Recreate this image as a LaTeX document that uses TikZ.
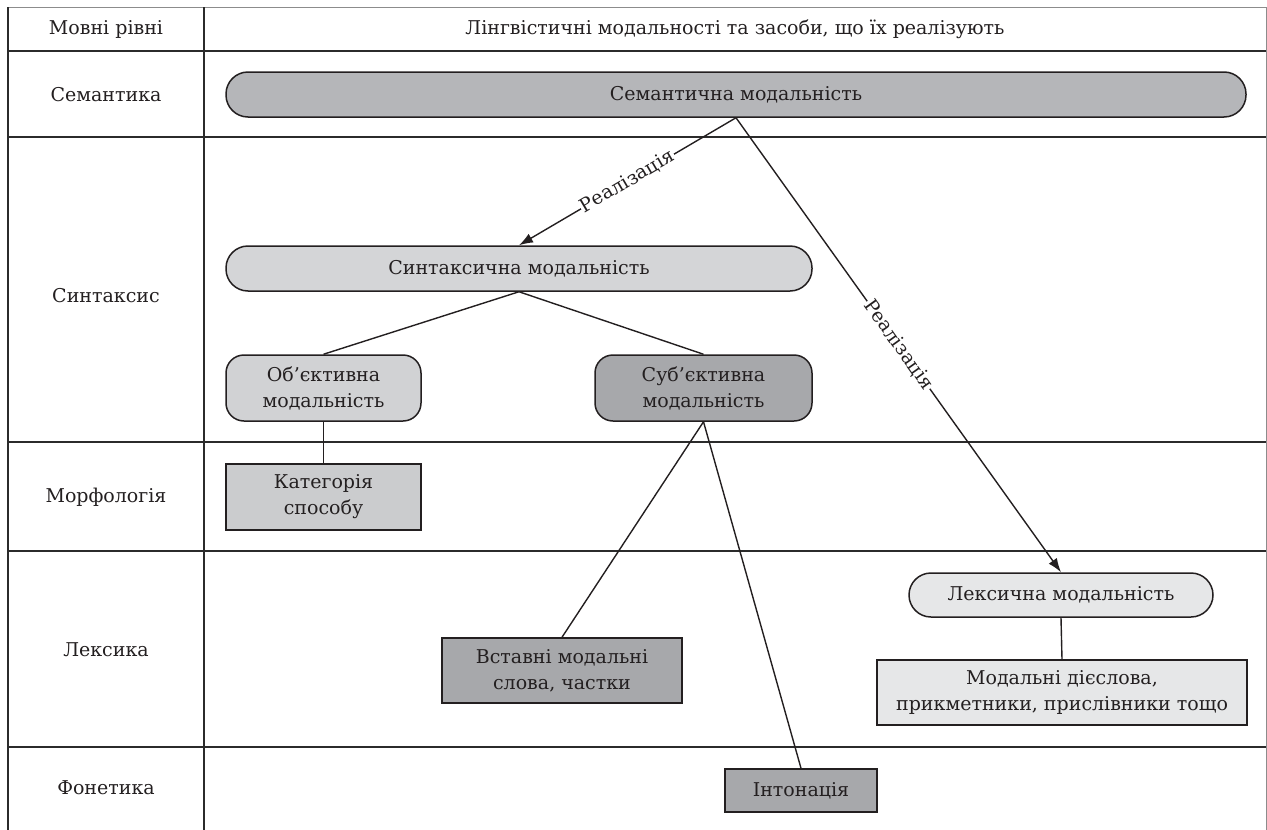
\documentclass[tikz,border=0pt]{standalone}
\usepackage{fontspec}
\setmainfont{DejaVu Serif}
\usetikzlibrary{arrows.meta}

\definecolor{semfill}{HTML}{B5B6B9}
\definecolor{synfill}{HTML}{D4D5D7}
\definecolor{objfill}{HTML}{D1D2D4}
\definecolor{subjfill}{HTML}{A7A8AB}
\definecolor{catfill}{HTML}{CBCCCE}
\definecolor{lexfill}{HTML}{E6E7E8}
\definecolor{gridline}{HTML}{2B2B2B}
\definecolor{ink}{HTML}{231F20}

\tikzset{
    every node/.style={font=\fontsize{19}{26}\selectfont, text=ink},
    pill/.style={draw=ink, line width=1.5pt, rounded corners=22pt,
        minimum height=45pt, inner sep=0pt},
    roundbox/.style={draw=ink, line width=1.5pt, rounded corners=18pt,
        minimum height=66pt, align=center, inner sep=0pt},
    plainbox/.style={draw=ink, line width=1.5pt, align=center, inner sep=0pt},
    link/.style={line width=1.4pt, draw=ink},
    realize/.style={link, -{Latex[length=14pt,width=10pt]}},
    realizelabel/.style={sloped, fill=white, inner sep=1pt},
}

\begin{document}
\begin{tikzpicture}[x=1pt, y=-1pt]
    \useasboundingbox (0,0) rectangle (1267,830);

    % таблиця
    \draw[line width=1pt, black!45] (8,7) -- (1266,7);
    \draw[line width=1pt, black!45] (1266,7) -- (1266,830);
    \draw[line width=1.7pt, gridline] (8,7) -- (8,830);
    \draw[line width=1.7pt, gridline] (204,7) -- (204,830);
    \foreach \yrow in {51,137,442,551,747}
        \draw[line width=1.7pt, gridline] (8,\yrow) -- (1266,\yrow);

    % заголовки
    \node (hlevels) at (106,29) {Мовні рівні};
    \node (hmodal) at (735,29) {Лінгвістичні модальності та засоби, що їх реалізують};
    \node (lsem) at (106,95) {Семантика};
    \node (lsyn) at (106,296) {Синтаксис};
    \node (lmorph) at (106,497) {Морфологія};
    \node (llex) at (106,650) {Лексика};
    \node (lphon) at (106,788) {Фонетика};

    % модальності
    \node[pill, fill=semfill, minimum width=1020pt] (sem) at (736,94.5) {Семантична модальність};
    \node[pill, fill=synfill, minimum width=586pt] (syn) at (519,268.5) {Синтаксична модальність};
    \node[roundbox, fill=objfill, minimum width=195pt] (obj) at (323.5,388) {Об’єктивна\\модальність};
    \node[roundbox, fill=subjfill, minimum width=217pt] (subj) at (703.5,388) {Суб’єктивна\\модальність};
    \node[plainbox, fill=catfill, minimum width=195pt, minimum height=66pt] (cat) at (323.5,497) {Категорія\\способу};
    \node[plainbox, fill=subjfill, minimum width=240pt, minimum height=65pt] (insert) at (562,670.5) {Вставні модальні\\слова, частки};
    \node[plainbox, fill=subjfill, minimum width=152pt, minimum height=43pt] (inton) at (801,790.5) {Інтонація};
    \node[pill, fill=lexfill, minimum width=304pt, minimum height=44pt] (lex) at (1061,595) {Лексична модальність};
    \node[plainbox, fill=lexfill, minimum width=370pt, minimum height=65pt] (verbs) at (1062,692.5) {Модальні дієслова,\\прикметники, прислівники тощо};

    % зв'язки
    \draw[realize] (sem.south) -- node[realizelabel] {Реалізація} (syn.north);
    \draw[realize] (sem.south) -- node[realizelabel] {Реалізація} (lex.north);
    \draw[link] (syn.south) -- (obj.north);
    \draw[link] (syn.south) -- (subj.north);
    \draw[link] (obj.south) -- (cat.north);
    \draw[link] (subj.south) -- (insert.north);
    \draw[link] (subj.south) -- (inton.north);
    \draw[link] (lex.south) -- (verbs.north);

\end{tikzpicture}
\end{document}
